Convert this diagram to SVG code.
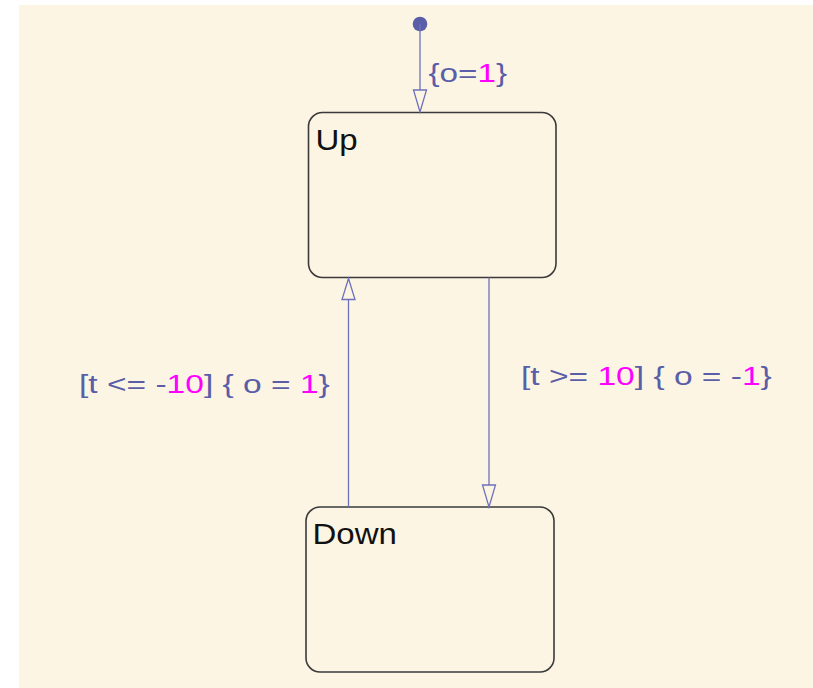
<svg xmlns="http://www.w3.org/2000/svg" width="813" height="688" viewBox="0 0 813 688">
  <defs>
    <style>
      .state { fill: #fdf5e4; stroke: #3a3a3a; stroke-width: 1.6; }
      .name { font-family: "Liberation Sans", Arial, sans-serif; font-size: 30px; fill: #111111; }
      .lbl { font-family: "Liberation Sans", Arial, sans-serif; font-size: 26px; fill: #5a5ea8; }
      .num { fill: #ff00ff; }
      .wire { stroke: #6d71bb; stroke-width: 1.3; fill: none; }
      .head { stroke: #6d71bb; stroke-width: 1.3; fill: #fdf5e4; stroke-linejoin: miter; }
    </style>
  </defs>
  <rect x="0" y="0" width="813" height="688" fill="#ffffff"/>
  <rect x="19" y="5" width="794" height="683" fill="#fdf5e4"/>

  <g id="Up">
    <rect class="state" x="308.5" y="112.5" width="247.5" height="165" rx="14" ry="14"/>
    <text class="name" transform="translate(315.5,150) scale(1.1,1)">Up</text>
  </g>

  <g id="Down">
    <rect class="state" x="306" y="507" width="248" height="165" rx="14" ry="14"/>
    <text class="name" transform="translate(312.5,543.5) scale(1.1,1)">Down</text>
  </g>

  <g id="connectors">
    <g id="default-transition">
      <circle cx="420" cy="24" r="7.3" fill="#5a5ea8"/>
      <line class="wire" x1="420" y1="24" x2="420" y2="90"/>
      <polygon class="head" points="413.5,90 426.5,90 420,112"/>
      <text class="lbl" transform="translate(428.5,82) scale(1.28,1)">{o=<tspan class="num">1</tspan>}</text>
    </g>
    <g id="down-to-up">
      <line class="wire" x1="348.5" y1="507" x2="348.5" y2="299.5"/>
      <polygon class="head" points="342,299.5 355,299.5 348.5,278.5"/>
      <text class="lbl" transform="translate(79,392.7) scale(1.29,1)">[t &lt;= -<tspan class="num">10</tspan>] { o = <tspan class="num">1</tspan>}</text>
    </g>
    <g id="up-to-down">
      <line class="wire" x1="489" y1="277.5" x2="489" y2="485"/>
      <polygon class="head" points="482.5,485 495.5,485 489,507"/>
      <text class="lbl" transform="translate(521,385) scale(1.29,1)">[t &gt;= <tspan class="num">10</tspan>] { o = -<tspan class="num">1</tspan>}</text>
    </g>
  </g>
</svg>
